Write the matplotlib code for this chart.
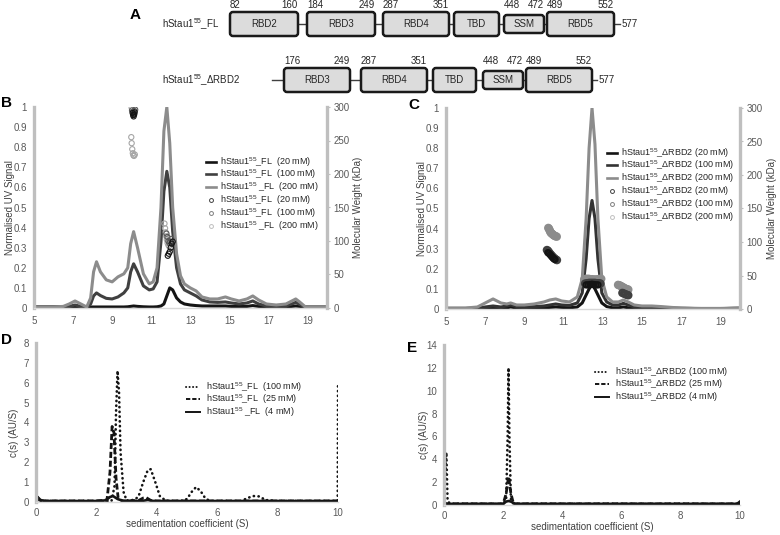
import numpy as np
import matplotlib.pyplot as plt
from matplotlib.patches import FancyBboxPatch
from matplotlib.lines import Line2D

plt.rcParams['font.family'] = ['Liberation Sans', 'DejaVu Sans']
plt.rcParams['mathtext.fontset'] = 'custom'
plt.rcParams['mathtext.rm'] = 'Liberation Sans'
plt.rcParams['mathtext.it'] = 'Liberation Sans:italic'
plt.rcParams['mathtext.bf'] = 'Liberation Sans:bold'

# Panel A: domain boundaries (residues)
fl_names = ['RBD2', 'RBD3', 'RBD4', 'TBD', 'SSM', 'RBD5']
fl_starts = ['82', '184', '287', '', '448', '489']
fl_ends = ['160', '249', '351', '', '472', '552']
d_names = ['RBD3', 'RBD4', 'TBD', 'SSM', 'RBD5']
d_starts = ['176', '287', '', '448', '489']
d_ends = ['249', '351', '', '472', '552']
length_aa = '577'

# Panel B: SEC-MALLS, hStau1 FL (elution volume, ml)
b_x = [5, 6, 6.5, 6.8, 7.1, 7.4, 7.7, 7.9, 8.05, 8.2, 8.4, 8.7, 9.0, 9.3, 9.6, 9.8,
       9.95, 10.1, 10.3, 10.6, 10.9, 11.1, 11.3, 11.5, 11.65, 11.8, 11.95, 12.1, 12.3,
       12.5, 12.7, 13.0, 13.3, 13.6, 14.0, 14.4, 14.8, 15.1, 15.5, 15.9, 16.2, 16.5,
       16.9, 17.4, 17.9, 18.2, 18.4, 18.6, 18.9, 19.3, 20]
b_200 = [0.005, 0.005, 0.008, 0.02, 0.035, 0.02, 0.005, 0.05, 0.18, 0.23, 0.18, 0.14,
         0.13, 0.155, 0.17, 0.2, 0.32, 0.38, 0.3, 0.17, 0.12, 0.13, 0.2, 0.5, 0.88, 1.0,
         0.82, 0.5, 0.27, 0.16, 0.12, 0.1, 0.085, 0.055, 0.045, 0.045, 0.055, 0.045,
         0.035, 0.045, 0.06, 0.04, 0.02, 0.015, 0.02, 0.035, 0.045, 0.03, 0.005, 0.005, 0.005]
b_100 = [0.005, 0.005, 0.005, 0.008, 0.015, 0.008, 0.003, 0.02, 0.06, 0.075, 0.062, 0.048,
         0.045, 0.055, 0.075, 0.1, 0.18, 0.22, 0.18, 0.11, 0.09, 0.095, 0.13, 0.33, 0.58,
         0.68, 0.6, 0.38, 0.2, 0.12, 0.09, 0.075, 0.06, 0.04, 0.03, 0.028, 0.03, 0.025,
         0.02, 0.025, 0.035, 0.02, 0.01, 0.008, 0.01, 0.02, 0.028, 0.018, 0.003, 0.003, 0.003]
b_20 = [0.005, 0.005, 0.005, 0.005, 0.005, 0.005, 0.005, 0.005, 0.005, 0.005, 0.005, 0.005,
        0.005, 0.005, 0.005, 0.006, 0.008, 0.01, 0.008, 0.006, 0.005, 0.005, 0.006, 0.01,
        0.02, 0.06, 0.1, 0.09, 0.05, 0.03, 0.02, 0.015, 0.012, 0.01, 0.01, 0.01, 0.01,
        0.008, 0.008, 0.008, 0.012, 0.008, 0.006, 0.005, 0.005, 0.008, 0.01, 0.008, 0.005,
        0.005, 0.005]
# molar mass points (kDa)
b_mw20_x = [10.05, 10.08, 10.1, 10.13, 10.15, 11.85, 11.9, 11.95, 12.0, 12.05, 12.1]
b_mw20_y = [291, 288, 286, 289, 292, 78, 81, 84, 90, 96, 99]
b_mw100_x = [10.02, 10.06, 10.1, 10.14, 10.18, 11.78, 11.83, 11.88, 11.93, 11.98, 12.03]
b_mw100_y = [295, 293, 290, 294, 296, 111, 106, 100, 97, 99, 103]
b_mw200_x = [10.0, 9.98, 10.0, 10.03, 10.06, 10.09, 10.12, 10.16, 11.68, 11.71, 11.74,
             11.77, 11.8, 11.84, 11.88, 11.92]
b_mw200_y = [299, 255, 246, 237, 231, 228, 227, 229, 126, 119, 113, 107, 102, 97, 94, 92]

# Panel C: SEC-MALLS, hStau1 dRBD2
c_x = [5, 6, 6.6, 7.0, 7.4, 7.8, 8.1, 8.3, 8.6, 9.0, 9.5, 10.0, 10.3, 10.6, 10.9, 11.3,
       11.7, 11.95, 12.15, 12.3, 12.45, 12.6, 12.75, 12.95, 13.2, 13.5, 13.8, 14.05, 14.3,
       14.6, 15.0, 15.5, 16.0, 16.5, 17.0, 18.0, 19.0, 20]
c_200 = [0.005, 0.005, 0.01, 0.03, 0.05, 0.03, 0.025, 0.03, 0.02, 0.02, 0.025, 0.035,
         0.045, 0.05, 0.04, 0.035, 0.06, 0.15, 0.45, 0.8, 1.0, 0.82, 0.45, 0.15, 0.06,
         0.035, 0.035, 0.045, 0.035, 0.02, 0.015, 0.015, 0.012, 0.008, 0.005, 0.003, 0.003, 0.005]
c_100 = [0.003, 0.003, 0.005, 0.01, 0.015, 0.01, 0.015, 0.02, 0.012, 0.01, 0.012, 0.015,
         0.02, 0.025, 0.02, 0.018, 0.03, 0.08, 0.25, 0.45, 0.54, 0.45, 0.25, 0.08, 0.035,
         0.02, 0.02, 0.028, 0.02, 0.01, 0.008, 0.006, 0.005, 0.004, 0.003, 0.002, 0.002, 0.004]
c_20 = [0.002, 0.002, 0.003, 0.004, 0.005, 0.004, 0.006, 0.01, 0.005, 0.004, 0.004, 0.005,
        0.008, 0.01, 0.008, 0.006, 0.01, 0.03, 0.07, 0.1, 0.12, 0.1, 0.07, 0.03, 0.012,
        0.006, 0.006, 0.01, 0.006, 0.004, 0.003, 0.003, 0.003, 0.003, 0.003, 0.002, 0.002, 0.003]
c_mw20_x = [10.2, 10.26, 10.32, 10.38, 10.44, 10.5, 10.56, 12.15, 12.25, 12.35, 12.45,
            12.55, 12.65, 12.75]
c_mw20_y = [84, 83, 81, 79, 77, 75, 74, 36, 36, 36.5, 37, 36.5, 36, 36]
c_mw100_x = [10.15, 10.2, 10.25, 10.3, 10.36, 10.42, 10.48, 10.54, 10.6, 10.66,
             12.1, 12.2, 12.3, 12.4, 12.5, 12.6, 12.7, 12.8, 12.88,
             14.0, 14.08, 14.16, 14.24, 14.3]
c_mw100_y = [88, 87, 85, 83, 81, 79, 77, 75.5, 74, 73,
             38, 38.5, 39, 39, 39, 39, 38.5, 38.5, 38,
             24, 23, 22, 21, 20.5]
c_mw200_x = [10.22, 10.25, 10.28, 10.31, 10.34, 10.38, 10.42, 10.46, 10.5, 10.55, 10.6,
             10.65, 12.05, 12.13, 12.21, 12.29, 12.37, 12.45, 12.53, 12.61, 12.69, 12.77,
             12.85, 12.92, 13.78, 13.83, 13.88, 13.94, 14.0, 14.06, 14.12, 14.18, 14.24, 14.3]
c_mw200_y = [121, 120, 118, 116, 114, 113, 112, 111, 110, 109, 108.5, 108, 44, 45, 45,
             45, 44.5, 44.5, 44, 44, 44, 44.5, 45, 45, 36, 35.5, 35, 34, 33, 32, 31, 30,
             29.5, 29]

# Panel D: AUC c(s), hStau1 FL
d100_x = [0, 0.1, 0.5, 1, 2, 2.5, 2.6, 2.65, 2.7, 2.75, 2.8, 2.9, 3.0, 3.2, 3.3, 3.4,
          3.55, 3.7, 3.8, 3.95, 4.1, 4.3, 4.8, 5.0, 5.15, 5.3, 5.45, 5.6, 5.75, 6.0, 6.8,
          7.0, 7.2, 7.4, 7.6, 8, 9, 9.9, 9.99, 10]
d100_y = [0.05, 0.05, 0.05, 0.05, 0.05, 0.05, 0.8, 4.5, 6.6, 5.5, 2.5, 0.5, 0.08, 0.1,
          0.15, 0.3, 1.0, 1.6, 1.65, 1.0, 0.3, 0.06, 0.05, 0.15, 0.5, 0.75, 0.55, 0.2,
          0.05, 0.05, 0.05, 0.2, 0.3, 0.28, 0.1, 0.05, 0.05, 0.05, 0.05, 5.85]
d25_x = [0, 0.05, 0.1, 0.2, 1, 2, 2.35, 2.45, 2.52, 2.58, 2.65, 2.72, 2.85, 3.0, 3.4,
         3.55, 3.65, 3.8, 4.0, 5, 6, 7, 8, 9, 10]
d25_y = [0.2, 0.25, 0.1, 0.05, 0.05, 0.05, 0.1, 1.5, 3.8, 3.5, 1.2, 0.2, 0.06, 0.05,
         0.08, 0.2, 0.22, 0.08, 0.05, 0.05, 0.05, 0.05, 0.05, 0.05, 0.05]
d4_x = [0, 0.05, 0.15, 0.3, 1, 2, 2.3, 2.45, 2.55, 2.7, 2.9, 3.5, 3.7, 3.9, 10]
d4_y = [0.15, 0.25, 0.1, 0.05, 0.05, 0.05, 0.08, 0.25, 0.3, 0.15, 0.05, 0.05, 0.1, 0.05, 0.05]

# Panel E: AUC c(s), hStau1 dRBD2
e100_x = [0, 0.04, 0.08, 0.12, 0.2, 1, 2.0, 2.1, 2.15, 2.18, 2.21, 2.26, 2.35, 3, 10]
e100_y = [0.3, 2.5, 4.6, 0.4, 0.1, 0.1, 0.1, 0.5, 6.0, 12.0, 6.0, 0.5, 0.1, 0.1, 0.1]
e25_x = [0, 1, 2.0, 2.1, 2.18, 2.26, 2.35, 10]
e25_y = [0.1, 0.1, 0.1, 1.0, 2.5, 1.0, 0.1, 0.1]
e4_x = [0, 0.1, 1, 2.0, 2.1, 2.18, 2.26, 2.4, 4, 9.9, 10]
e4_y = [0.2, 0.1, 0.1, 0.1, 0.3, 0.35, 0.3, 0.1, 0.1, 0.1, 0.3]

W, H = 780, 535
fig = plt.figure(figsize=(7.8, 5.35), dpi=100)

GRAY = '#bfbfbf'
TXT = '#404040'
TICK = '#595959'


def axes_px(l, t, r, b):
    return fig.add_axes([l / W, 1 - b / H, (r - l) / W, (b - t) / H])


def ftext(x, y, s, **kw):
    return fig.text(x / W, 1 - y / H, s, **kw)


def style(ax):
    for s in ['top', 'right']:
        ax.spines[s].set_visible(False)
    ax.spines['left'].set_color(GRAY)
    ax.spines['left'].set_linewidth(2.4)
    ax.spines['bottom'].set_color('#d9d9d9')
    ax.spines['bottom'].set_linewidth(1)
    ax.tick_params(length=0, labelsize=7, labelcolor=TICK)
    ax.tick_params(axis='y', pad=5)
    ax.tick_params(axis='x', pad=6)
    ax.yaxis.set_major_formatter(plt.FuncFormatter(lambda v, p: f'{v:g}'))


# ---------------- Panel A ----------------
axA = axes_px(0, 0, W, 100)
axA.set_xlim(0, W)
axA.set_ylim(100, 0)
axA.axis('off')

row_fl = [(230, 298), (307, 375), (383, 449), (454, 499), (504, 544), (547, 614)]
row_d = [(284, 350), (361, 427), (433, 476), (483, 523), (526, 592)]


def draw_row(names, starts, ends, slots, yc, line_from, line_to):
    axA.plot([line_from, line_to], [yc, yc], color='#404040', lw=1.0, zorder=1)
    for name, s, e, (x0, x1) in zip(names, starts, ends, slots):
        h = 18 if name == 'SSM' else 24
        box = FancyBboxPatch((x0, yc - h / 2), x1 - x0, h,
                             boxstyle='round,pad=0,rounding_size=3',
                             fc='#dcdcdc', ec='#1a1a1a', lw=1.8, zorder=2)
        axA.add_patch(box)
        axA.text((x0 + x1) / 2, yc, name, ha='center', va='center', fontsize=7,
                 color='#262626', zorder=3)
        if s:
            axA.text(x0, yc - 19, s, ha='left', va='center', fontsize=7, color='#262626')
        if e:
            axA.text(x1, yc - 19, e, ha='right', va='center', fontsize=7, color='#262626')
    axA.text(line_to + 2, yc, length_aa, ha='left', va='center', fontsize=7, color='#262626')


draw_row(fl_names, fl_starts, fl_ends, row_fl, 24, 298, 620)
draw_row(d_names, d_starts, d_ends, row_d, 80, 272, 597)
axA.text(162, 24, 'hStau1$^{55}$_FL', ha='left', va='center', fontsize=7, color='#262626')
axA.text(162, 80, 'hStau1$^{55}$_ΔRBD2', ha='left', va='center', fontsize=7, color='#262626')
ftext(135, 15, 'A', fontsize=11, fontweight='bold', ha='center', va='center')


# ---------------- Panels B / C ----------------
def sec_panel(l, r, t, b, lines, scat, labels_l, labels_s, leg_xy, letter, letter_xy,
              ylab_x, mwlab_x, spacing):
    ax = axes_px(l, t, r, b)
    style(ax)
    for (x, y, c) in lines:
        ax.plot(x, y, color=c, lw=2.2, solid_joinstyle='round')
    ax.set_xlim(5, 20)
    ax.set_ylim(0, 1)
    ax.set_xticks(range(5, 21, 2))
    ax.set_yticks(np.round(np.arange(0, 1.01, 0.1), 1))
    ax2 = ax.twinx()
    for s in ['top', 'left', 'bottom']:
        ax2.spines[s].set_visible(False)
    ax2.spines['right'].set_color(GRAY)
    ax2.spines['right'].set_linewidth(2.4)
    ax2.set_ylim(0, 300)
    ax2.set_yticks(range(0, 301, 50))
    ax2.tick_params(axis='y', length=2.5, color=GRAY, labelsize=7, labelcolor=TICK, pad=2)
    for (x, y, c, s, lw) in scat:
        ax2.scatter(x, y, s=s, facecolors='none', edgecolors=c, linewidths=lw, zorder=5)
    handles = [Line2D([], [], color=c, lw=1.9) for (_, _, c) in lines]
    handles += [Line2D([], [], marker='o', ls='none', mfc='none', mec=c, ms=2.8, mew=0.7)
                for c in ['#404040', '#7f7f7f', '#bfbfbf']]
    fig.legend(handles, labels_l + labels_s, loc='upper left',
               bbox_to_anchor=(leg_xy[0] / W, 1 - leg_xy[1] / H), frameon=False,
               fontsize=6.5, handlelength=1.1, handletextpad=0.5, labelspacing=spacing,
               borderpad=0, borderaxespad=0, labelcolor='#262626')
    ftext(letter_xy[0], letter_xy[1], letter, fontsize=11, fontweight='bold',
          ha='center', va='center')
    ftext(ylab_x, (t + b) / 2, 'Normalised UV Signal', rotation=90, ha='center',
          va='center', fontsize=7, color=TXT)
    ftext(mwlab_x, (t + b) / 2, 'Molecular Weight (kDa)', rotation=90, ha='center',
          va='center', fontsize=7, color=TXT)
    return ax


sec_panel(34, 327, 107, 308,
          [(b_x, b_20, '#141414'), (b_x, b_100, '#404040'), (b_x, b_200, '#8c8c8c')],
          [(b_mw200_x, b_mw200_y, '#a6a6a6', 14, 0.8),
           (b_mw100_x, b_mw100_y, '#595959', 14, 0.8),
           (b_mw20_x, b_mw20_y, '#141414', 14, 0.8)],
          ['hStau1$^{55}$_FL  (20 mM)', 'hStau1$^{55}$_FL  (100 mM)',
           'hStau1$^{55}$ _FL  (200 mM)'],
          ['hStau1$^{55}$_FL  (20 mM)', 'hStau1$^{55}$_FL  (100 mM)',
           'hStau1$^{55}$ _FL  (200 mM)'],
          (206, 155), 'B', (6, 103), 10, 358, -0.1)

sec_panel(446, 740, 108, 309,
          [(c_x, c_20, '#141414'), (c_x, c_100, '#333333'), (c_x, c_200, '#8c8c8c')],
          [(c_mw200_x, c_mw200_y, '#8c8c8c', 20, 1.6),
           (c_mw100_x, c_mw100_y, '#404040', 20, 1.6),
           (c_mw20_x, c_mw20_y, '#141414', 16, 1.3)],
          ['hStau1$^{55}$_ΔRBD2 (20 mM)', 'hStau1$^{55}$_ΔRBD2 (100 mM)',
           'hStau1$^{55}$_ΔRBD2 (200 mM)'],
          ['hStau1$^{55}$_ΔRBD2 (20 mM)', 'hStau1$^{55}$_ΔRBD2 (100 mM)',
           'hStau1$^{55}$_ΔRBD2 (200 mM)'],
          (607, 146), 'C', (414, 105), 422, 772, -0.1)


# ---------------- Panels D / E ----------------
def auc_panel(l, r, t, b, ymax, ystep, series, labels, leg_xy, letter, letter_xy, ylab_x):
    ax = axes_px(l, t, r, b)
    style(ax)
    styles = [dict(ls=(0, (0.1, 1.7)), lw=1.9, dash_capstyle='round'),
              dict(ls=(0, (2.2, 1.0)), lw=2.0),
              dict(ls='-', lw=1.9)]
    for (x, y), st in zip(series, styles):
        ax.plot(x, y, color='#141414', **st)
    ax.set_xlim(0, 10)
    ax.set_ylim(0, ymax)
    ax.set_xticks(range(0, 11, 2))
    ax.set_yticks(range(0, ymax + 1, ystep))
    ax.tick_params(axis='x', pad=4)
    handles = [Line2D([], [], color='#141414', **st) for st in styles]
    for hd in handles:
        hd.set_linewidth(1.4)
    fig.legend(handles, labels, loc='upper left',
               bbox_to_anchor=(leg_xy[0] / W, 1 - leg_xy[1] / H), frameon=False,
               fontsize=6.5, handlelength=1.5, handletextpad=0.7, labelspacing=-0.1,
               borderpad=0, borderaxespad=0, labelcolor='#262626')
    ftext(letter_xy[0], letter_xy[1], letter, fontsize=11, fontweight='bold',
          ha='center', va='center')
    ftext(ylab_x, (t + b) / 2 + 10, 'c(s) (AU/S)', rotation=90, ha='center',
          va='center', fontsize=7, color=TXT)
    ftext((l + r) / 2, b + 22, 'sedimentation coefficient (S)', ha='center',
          va='center', fontsize=7, color=TXT)
    return ax


auc_panel(36, 338, 343, 502, 8, 1,
          [(d100_x, d100_y), (d25_x, d25_y), (d4_x, d4_y)],
          ['hStau1$^{55}$_FL  (100 mM)', 'hStau1$^{55}$_FL  (25 mM)',
           'hStau1$^{55}$ _FL  (4 mM)'],
          (186, 380), 'D', (7, 340), 14)

auc_panel(444, 740, 345, 505, 14, 2,
          [(e100_x, e100_y), (e25_x, e25_y), (e4_x, e4_y)],
          ['hStau1$^{55}$_ΔRBD2 (100 mM)', 'hStau1$^{55}$_ΔRBD2 (25 mM)',
           'hStau1$^{55}$_ΔRBD2 (4 mM)'],
          (595, 365), 'E', (412, 348), 424)

fig.savefig('out.png', dpi=100)
